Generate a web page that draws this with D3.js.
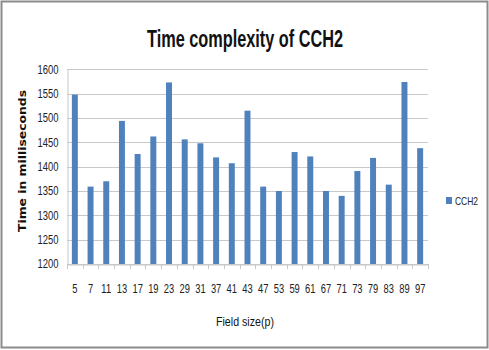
<!DOCTYPE html>
<html><head><meta charset="utf-8">
<script src="https://cdn.jsdelivr.net/npm/d3@7"></script>
<style>body{margin:0;background:#fff}</style>
</head><body>
<svg id="c" width="489" height="350"></svg>
<script>
const categories = ["5","7","11","13","17","19","23","29","31","37","41","43","47","53","59","61","67","71","73","79","83","89","97"];
const values = [1548,1359,1370,1494,1426,1462,1573,1456,1448,1419,1407,1515,1359,1350,1430,1421,1350,1340,1391,1418,1363,1574,1438];
const yTicks = [1200,1250,1300,1350,1400,1450,1500,1550,1600];
const seriesName = "CCH2";
const title = "Time complexity of CCH2";
const xTitle = "Field size(p)";
const yTitle = "Time in milliseconds";

const svg = d3.select("#c");
const narrow = "'Liberation Sans Narrow','Arial Narrow','Liberation Sans',sans-serif";
svg.append("rect").attr("x",1.5).attr("y",1.5).attr("width",486).attr("height",346)
  .attr("fill","#fff").attr("stroke","#8c8c8c").attr("stroke-width",2);

const m = {l:67, r:428, t:69.3, b:264};
const x = d3.scaleBand().domain(categories).range([m.l,m.r]).paddingInner(0.62).paddingOuter(0.31);
const y = d3.scaleLinear().domain([1200,1600]).range([m.b,m.t]);

svg.append("g").selectAll("line").data(yTicks).join("line")
  .attr("x1",m.l).attr("x2",m.r).attr("y1",d=>Math.round(y(d))+0.5).attr("y2",d=>Math.round(y(d))+0.5)
  .attr("stroke","#c8c8c8").attr("stroke-width",1);

const ya = svg.append("g").attr("transform",`translate(${m.l+0.5},0)`)
  .call(d3.axisLeft(y).tickValues(yTicks).tickSize(0).tickPadding(9).tickFormat(d3.format("d")));
ya.select(".domain").attr("stroke","#c8c8c8");
ya.selectAll("text").attr("font-family",narrow).attr("font-size",12).attr("fill","#222")
  .attr("textLength",21).attr("lengthAdjust","spacingAndGlyphs");

svg.append("g").selectAll("rect").data(values).join("rect")
  .attr("x",(d,i)=>x(categories[i])).attr("width",x.bandwidth())
  .attr("y",d=>y(d)).attr("height",d=>m.b-y(d))
  .attr("fill","#4f81bd");

const step = x.step();
const xa = svg.append("g").attr("transform",`translate(0,${m.b+0.5})`)
  .call(d3.axisBottom(x).tickSize(0).tickPadding(20));
xa.select(".domain").attr("stroke","#c8c8c8");
xa.selectAll("text").attr("font-family",narrow).attr("font-size",12).attr("fill","#222")
  .attr("textLength",d=>d.length*5.2).attr("lengthAdjust","spacingAndGlyphs");
svg.append("g").selectAll("line").data(d3.range(categories.length+1)).join("line")
  .attr("x1",i=>Math.round(m.l+i*step)+0.5).attr("x2",i=>Math.round(m.l+i*step)+0.5)
  .attr("y1",m.b).attr("y2",m.b+5).attr("stroke","#c8c8c8");

svg.append("text").attr("x",245).attr("y",47).attr("text-anchor","middle")
  .attr("font-family",narrow).attr("font-weight","bold").attr("font-size",24)
  .attr("textLength",196).attr("lengthAdjust","spacingAndGlyphs").attr("fill","#111").text(title);
svg.append("text").attr("x",245).attr("y",326).attr("text-anchor","middle")
  .attr("font-family",narrow).attr("font-size",12).attr("fill","#111")
  .attr("textLength",58).attr("lengthAdjust","spacingAndGlyphs").text(xTitle);
svg.append("text").attr("transform","translate(26,161) rotate(-90)").attr("text-anchor","middle")
  .attr("font-family","'DejaVu Sans',Verdana,sans-serif").attr("font-weight","bold").attr("font-size",11)
  .attr("textLength",142).attr("lengthAdjust","spacingAndGlyphs").attr("fill","#111").text(yTitle);

svg.append("rect").attr("x",446).attr("y",197).attr("width",6).attr("height",7).attr("fill","#4f81bd");
svg.append("text").attr("x",455).attr("y",205).attr("font-family",narrow).attr("font-size",11)
  .attr("textLength",23).attr("lengthAdjust","spacingAndGlyphs")
  .attr("fill","#222").text(seriesName);
</script>
</body></html>
